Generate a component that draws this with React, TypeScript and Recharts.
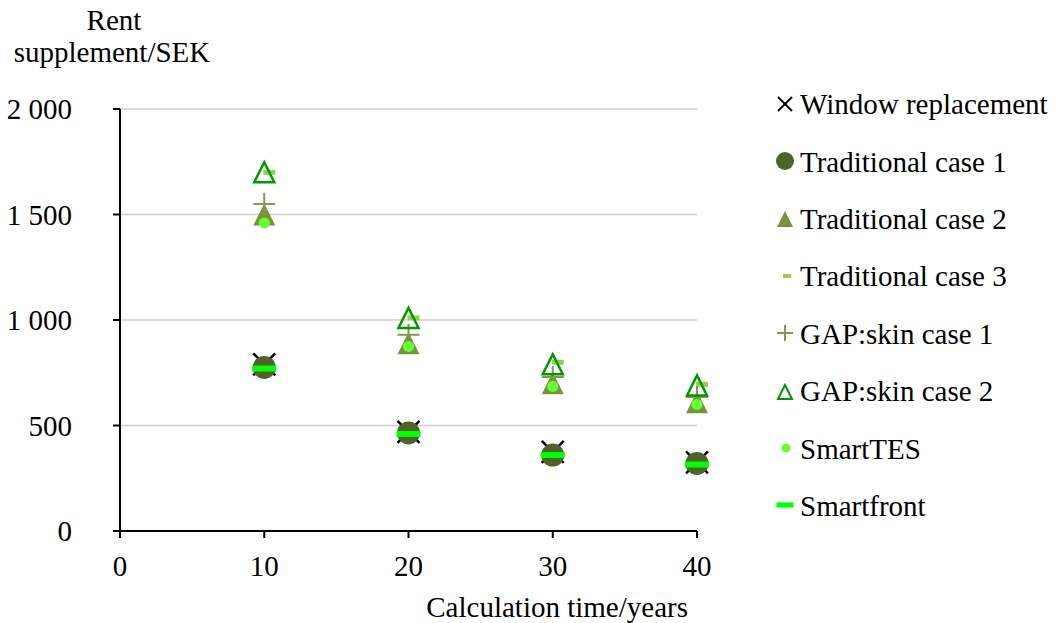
import React from 'react';
import {
  ScatterChart,
  Scatter,
  XAxis,
  YAxis,
  CartesianGrid,
} from 'recharts';

// values
const years = [10, 20, 30, 40];
const windowReplacement = [790, 470, 375, 325];
const traditional1 = [775, 465, 360, 320];
const traditional2 = [1500, 890, 700, 610];
const traditional3 = [1700, 1010, 800, 695];
const gapSkin1 = [1550, 930, 730, 635];
const gapSkin2 = [1700, 1010, 790, 690];
const smartTES = [1460, 875, 685, 600];
const smartfront = [770, 460, 360, 315];

const xTicks = [0, 10, 20, 30, 40];
const yTicks = [0, 500, 1000, 1500, 2000];

const FONT = "'Times New Roman', 'Liberation Serif', 'DejaVu Serif', serif";
const FS = 29;

const toPoints = (vals: number[]) => years.map((x, i) => ({ x, y: vals[i] }));

const fmt = (v: number) => String(v).replace(/\B(?=(\d{3})+(?!\d))/g, ' ');

// marker shapes
const XMark = ({ cx, cy, s = 11, w = 2.5 }: any) => (
  <g stroke="#000" strokeWidth={w}>
    <line x1={cx - s} y1={cy - s} x2={cx + s} y2={cy + s} />
    <line x1={cx - s} y1={cy + s} x2={cx + s} y2={cy - s} />
  </g>
);
const Dot = ({ cx, cy, r = 11.5, fill = '#4f6228' }: any) => (
  <circle cx={cx} cy={cy} r={r} fill={fill} />
);
const Tri = ({ cx, cy, s = 11, fill = '#77933c' }: any) => (
  <polygon
    points={`${cx},${cy - s} ${cx - s},${cy + s} ${cx + s},${cy + s}`}
    fill={fill}
  />
);
const Dash = ({ cx, cy, w = 12, h = 5, dx = 0 }: any) => (
  <rect x={cx + dx} y={cy - h / 2} width={w} height={h} fill="#92d050" />
);
const Plus = ({ cx, cy, s = 11, w = 2 }: any) => (
  <g stroke="#7f9a48" strokeWidth={w}>
    <line x1={cx - s} y1={cy} x2={cx + s} y2={cy} />
    <line x1={cx} y1={cy - s} x2={cx} y2={cy + s} />
  </g>
);
const OpenTri = ({ cx, cy, s = 10, w = 2.5 }: any) => (
  <polygon
    points={`${cx},${cy - s} ${cx - s},${cy + s} ${cx + s},${cy + s}`}
    fill="none"
    stroke="#009900"
    strokeWidth={w}
  />
);
const Bar = ({ cx, cy, w = 24, h = 6 }: any) => (
  <rect x={cx - w / 2} y={cy - h / 2} width={w} height={h} fill="#00ff00" />
);

const series = [
  { name: 'Window replacement', values: windowReplacement, shape: (p: any) => <XMark {...p} />, icon: <XMark cx={10} cy={10} s={7} w={2} /> },
  { name: 'Traditional case 1', values: traditional1, shape: (p: any) => <Dot {...p} />, icon: <Dot cx={10} cy={10} r={9} /> },
  { name: 'Traditional case 2', values: traditional2, shape: (p: any) => <Tri {...p} />, icon: <Tri cx={10} cy={11} s={8} /> },
  { name: 'Traditional case 3', values: traditional3, shape: (p: any) => <Dash {...p} dx={-1} />, icon: <Dash cx={10} cy={10} w={8} h={4} dx={-2} /> },
  { name: 'GAP:skin case 1', values: gapSkin1, shape: (p: any) => <Plus {...p} />, icon: <Plus cx={10} cy={10} s={8} /> },
  { name: 'GAP:skin case 2', values: gapSkin2, shape: (p: any) => <OpenTri {...p} />, icon: <OpenTri cx={10} cy={11} s={7} w={2} /> },
  { name: 'SmartTES', values: smartTES, shape: (p: any) => <Dot {...p} r={5.5} fill="#66ff33" />, icon: <Dot cx={11} cy={10} r={4.5} fill="#66ff33" /> },
  { name: 'Smartfront', values: smartfront, shape: (p: any) => <Bar {...p} />, icon: <Bar cx={10} cy={10} w={17} h={5} /> },
];

const App = () => {
  return (
    <div style={{ position: 'absolute', left: 0, top: 0, width: 1060, height: 623, background: '#fff', fontFamily: FONT }}>
      <ScatterChart
        width={1060}
        height={623}
        margin={{ top: 109, right: 363, bottom: 0, left: 0 }}
        style={{ fontFamily: FONT }}
      >
        <CartesianGrid vertical={false} stroke="#cfcfcf" strokeWidth={1.5} />
        <XAxis
          type="number"
          dataKey="x"
          domain={[0, 40]}
          ticks={xTicks}
          height={92}
          axisLine={{ stroke: '#000', strokeWidth: 2 }}
          tickLine={{ stroke: '#000', strokeWidth: 2 }}
          tickSize={7}
          tickMargin={17}
          tick={{ fill: '#000', fontSize: FS, style: { fontFamily: FONT } }}
          label={{
            content: ({ viewBox }: any) => (
              <text
                x={viewBox.x + viewBox.width - 9}
                y={617}
                textAnchor="end"
                fontSize={FS}
                style={{ fontFamily: FONT }}
                fill="#000"
              >
                Calculation time/years
              </text>
            ),
          }}
        />
        <YAxis
          type="number"
          dataKey="y"
          domain={[0, 2000]}
          ticks={yTicks}
          width={120}
          axisLine={{ stroke: '#000', strokeWidth: 2 }}
          tickLine={{ stroke: '#000', strokeWidth: 2 }}
          tickSize={7}
          tickMargin={41}
          tickFormatter={fmt}
          tick={{ fill: '#000', fontSize: FS, style: { fontFamily: FONT } }}
          label={{
            content: () => (
              <g fontSize={FS} style={{ fontFamily: FONT }} fill="#000" textAnchor="middle">
                <text x={114} y={30}>Rent</text>
                <text x={112} y={62}>supplement/SEK</text>
              </g>
            ),
          }}
        />
        {series.map((s) => (
          <Scatter
            key={s.name}
            name={s.name}
            data={toPoints(s.values)}
            shape={s.shape}
            isAnimationActive={false}
          />
        ))}
      </ScatterChart>
      <div style={{ position: 'absolute', left: 775, top: 76 }}>
        {series.map((s) => (
          <div
            key={s.name}
            style={{ display: 'flex', alignItems: 'center', height: 57.4, fontSize: FS, color: '#000', whiteSpace: 'nowrap' }}
          >
            <svg width={22} height={22} style={{ marginRight: 3 }}>
              {s.icon}
            </svg>
            <span>{s.name}</span>
          </div>
        ))}
      </div>
    </div>
  );
};

export default App;
